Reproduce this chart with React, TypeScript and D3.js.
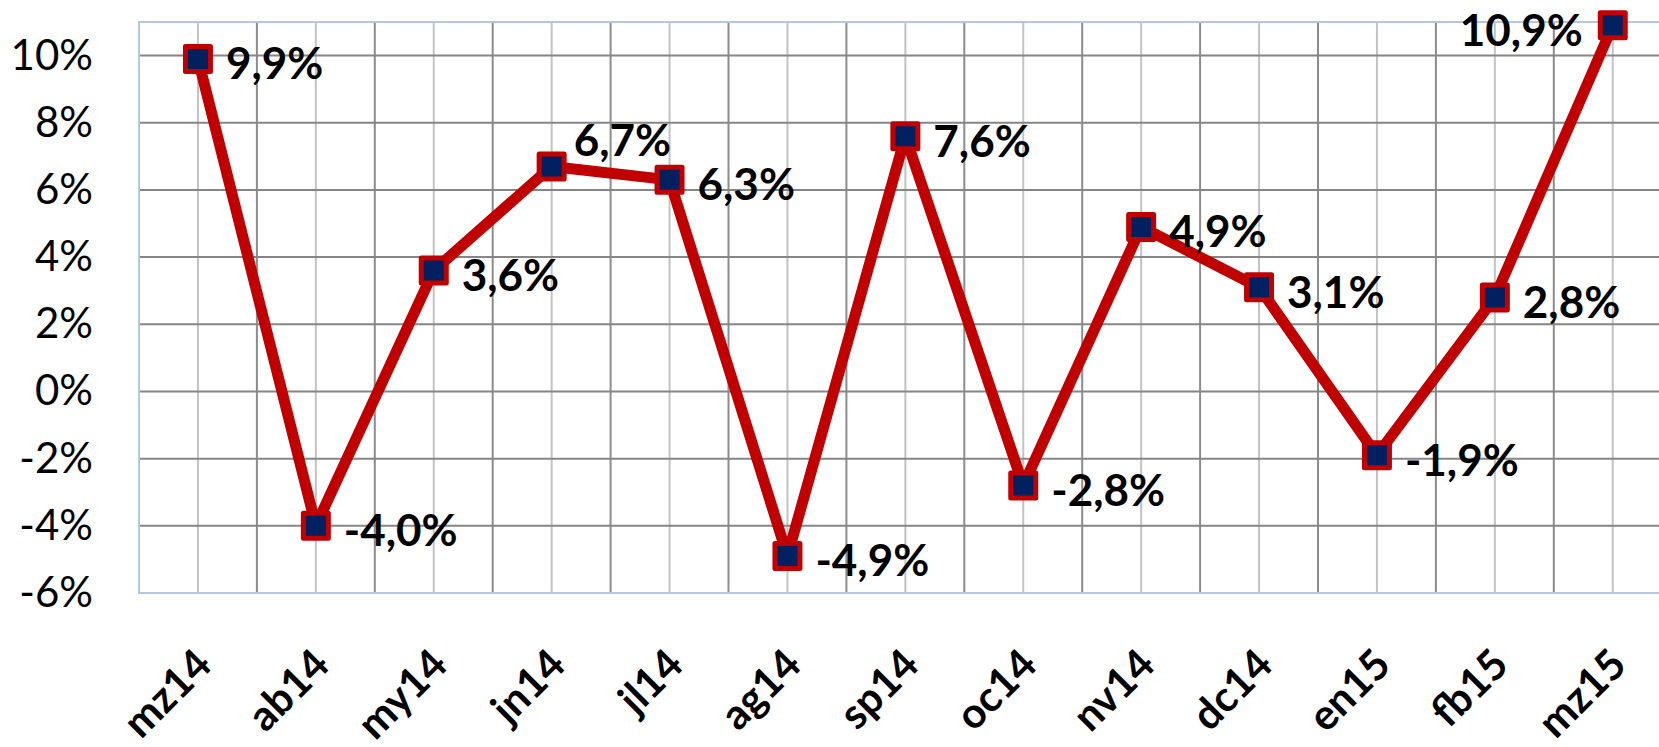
import { useEffect, useRef } from "react";
import * as d3 from "d3";

const months = ["mz14", "ab14", "my14", "jn14", "jl14", "ag14", "sp14", "oc14", "nv14", "dc14", "en15", "fb15", "mz15"];
const growth = [9.9, -4.0, 3.6, 6.7, 6.3, -4.9, 7.6, -2.8, 4.9, 3.1, -1.9, 2.8, 10.9];
const yTicks = [-6, -4, -2, 0, 2, 4, 6, 8, 10];
// where each data label sits relative to its marker
const labelSide = ["right", "right", "right", "above", "right", "right", "right", "right", "right", "right", "right", "right", "left"];

function App() {
    const svgRef = useRef<SVGSVGElement>(null);

    useEffect(() => {
        const left = 139;
        const top = 22;
        const bottom = 593;
        const step = 117.9;

        const svg = d3.select(svgRef.current);
        svg.selectAll("*").remove();

        const x = d3.scaleBand().domain(months).range([left, left + step * months.length]).padding(0);
        const cx = (m: string) => (x(m) as number) + x.bandwidth() / 2;
        const y = d3.scaleLinear().domain([-6, 11]).range([bottom, top]);
        const right = left + step * months.length;

        // vertical grid: light at category centres, darker at the boundaries
        const grid = svg.append("g");
        months.forEach((m, i) => {
            if (i > 0) {
                grid.append("line")
                    .attr("x1", x(m)).attr("x2", x(m))
                    .attr("y1", top).attr("y2", bottom)
                    .attr("stroke", "#8c8c8c").attr("stroke-width", 2);
            }
            grid.append("line")
                .attr("x1", cx(m)).attr("x2", cx(m))
                .attr("y1", top).attr("y2", bottom)
                .attr("stroke", "#c3c3c3").attr("stroke-width", 2);
        });
        yTicks.slice(1).forEach((t) => {
            grid.append("line")
                .attr("x1", left).attr("x2", right)
                .attr("y1", y(t)).attr("y2", y(t))
                .attr("stroke", "#868686").attr("stroke-width", 2);
        });

        // plot border
        svg.append("rect")
            .attr("x", left).attr("y", top)
            .attr("width", right - left).attr("height", bottom - top)
            .attr("fill", "none").attr("stroke", "#b4c7e7").attr("stroke-width", 2);

        // y axis
        const yAxis = d3.axisLeft(y).tickValues(yTicks).tickSize(0).tickPadding(46).tickFormat((d) => `${d}%`);
        const gy = svg.append("g").attr("transform", `translate(${left},0)`).call(yAxis);
        gy.select(".domain").remove();
        gy.selectAll("text")
            .attr("font-family", "Lato, 'Open Sans', sans-serif")
            .attr("font-size", 42)
            .attr("fill", "#000");

        // x axis, rotated labels
        const xAxis = d3.axisBottom(x).tickSize(0);
        const gx = svg.append("g").attr("transform", `translate(0,${bottom})`).call(xAxis);
        gx.select(".domain").remove();
        gx.selectAll("text")
            .attr("x", 0).attr("y", 0).attr("dy", 0)
            .attr("text-anchor", "end")
            .attr("transform", "translate(16,74) rotate(-45)")
            .attr("font-family", "Lato, 'Open Sans', sans-serif")
            .attr("font-weight", "bold")
            .attr("font-size", 42)
            .attr("fill", "#000");

        // line
        const line = d3.line<number>()
            .x((d, i) => cx(months[i]))
            .y((d) => y(d));
        svg.append("path")
            .attr("d", line(growth))
            .attr("fill", "none")
            .attr("stroke", "#c00000")
            .attr("stroke-width", 11)
            .attr("stroke-linejoin", "round");

        // markers
        svg.selectAll(".marker")
            .data(growth)
            .join("rect")
            .attr("class", "marker")
            .attr("x", (d, i) => cx(months[i]) - 12.5)
            .attr("y", (d) => y(d) - 12.5)
            .attr("width", 25).attr("height", 25)
            .attr("fill", "#002060")
            .attr("stroke", "#c00000")
            .attr("stroke-width", 5)
            .attr("stroke-linejoin", "round");

        // data labels
        svg.selectAll(".lbl")
            .data(growth)
            .join("text")
            .attr("class", "lbl")
            .attr("x", (d, i) => {
                const s = labelSide[i];
                if (s === "left") return cx(months[i]) - 30;
                if (s === "above") return cx(months[i]) + 22;
                return cx(months[i]) + 28;
            })
            .attr("y", (d, i) => y(d) + (labelSide[i] === "above" ? -26 : 5))
            .attr("dy", "0.35em")
            .attr("text-anchor", (d, i) => (labelSide[i] === "left" ? "end" : "start"))
            .attr("font-family", "Lato, 'Open Sans', sans-serif")
            .attr("font-weight", "bold")
            .attr("font-size", 44)
            .attr("fill", "#000")
            .text((d) => `${d.toFixed(1).replace(".", ",")}%`);
    }, []);

    return (
        <svg
            ref={svgRef}
            width={1659}
            height={747}
            style={{ position: "absolute", left: 0, top: 0, background: "#fff" }}
        ></svg>
    );
}

export default App;
